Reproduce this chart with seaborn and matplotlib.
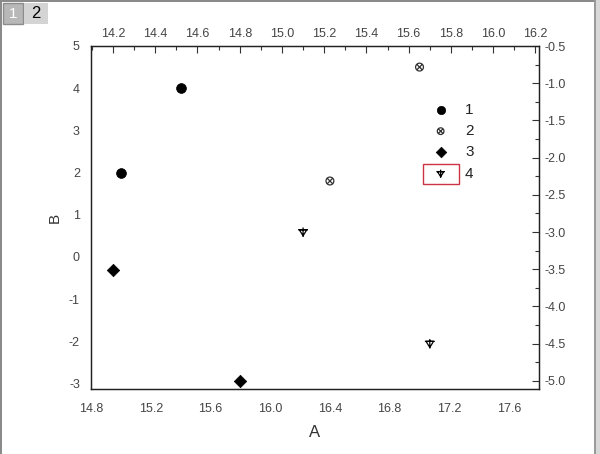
import matplotlib
matplotlib.use("Agg")
import matplotlib.pyplot as plt
import seaborn as sns
import numpy as np
import pandas as pd
from matplotlib.path import Path
from matplotlib.patches import Rectangle
from matplotlib.ticker import MultipleLocator, FixedLocator

sns.set_theme(style="white")
plt.rcParams['font.family'] = ['Liberation Sans', 'DejaVu Sans']

# ---- data (bottom/left axes) ----
s1_x = [15.0, 15.4]
s1_y = [2.0, 4.0]
s2_x = [16.4, 17.0]
s2_y = [1.8, 4.5]
s3_x = [14.95, 15.8]
s3_y = [-0.3, -2.95]
# ---- data (top/right axes) ----
s4_x = [15.1, 15.7]
s4_y = [-3.0, -4.5]

labels = ["1", "2", "3", "4"]
bottom_ticks = [14.8, 15.2, 15.6, 16.0, 16.4, 16.8, 17.2, 17.6]
left_ticks = [-3, -2, -1, 0, 1, 2, 3, 4, 5]
top_ticks = [14.2, 14.4, 14.6, 14.8, 15.0, 15.2, 15.4, 15.6, 15.8, 16.0, 16.2]
right_ticks = [-0.5, -1.0, -1.5, -2.0, -2.5, -3.0, -3.5, -4.0, -4.5, -5.0]

# custom markers
t = np.linspace(0, 2 * np.pi, 40)
circ = Path(np.column_stack([np.cos(t), np.sin(t)]))
xs = Path([(-0.7, -0.7), (0.7, 0.7), (-0.7, 0.7), (0.7, -0.7)],
          [Path.MOVETO, Path.LINETO, Path.MOVETO, Path.LINETO])
circ_x = Path.make_compound_path(circ, xs)
tri = Path([(-1, 0.6), (1, 0.6), (0, -1), (-1, 0.6)],
           [Path.MOVETO, Path.LINETO, Path.LINETO, Path.CLOSEPOLY])
plus = Path([(0, 1.2), (0, -1.3), (-1.3, 0.6), (1.3, 0.6)],
            [Path.MOVETO, Path.LINETO, Path.MOVETO, Path.LINETO])
tri_plus = Path.make_compound_path(tri, plus)

W, H = 600, 454
fig = plt.figure(figsize=(6.0, 4.54), dpi=100)
fig.patch.set_facecolor("white")

rect = [91 / W, 1 - 389 / H, (539 - 91) / W, (389 - 46) / H]
ax = fig.add_axes(rect)
ax.set_facecolor("white")
ax2 = fig.add_axes(rect, facecolor="none")

d1 = pd.DataFrame({"A": s1_x, "B": s1_y})
d2 = pd.DataFrame({"A": s2_x, "B": s2_y})
d3 = pd.DataFrame({"A": s3_x, "B": s3_y})
d4 = pd.DataFrame({"A": s4_x, "B": s4_y})

sns.scatterplot(data=d1, x="A", y="B", ax=ax, marker="o", s=50, color="black",
                edgecolor="black", linewidth=0.5, label=labels[0])
sns.scatterplot(data=d2, x="A", y="B", ax=ax, marker=circ_x, s=32, facecolor="none",
                edgecolor="#333333", linewidth=0.9, label=labels[1])
sns.scatterplot(data=d3, x="A", y="B", ax=ax, marker="D", s=40, color="black",
                edgecolor="black", linewidth=0.5, label=labels[2])
sns.scatterplot(data=d4, x="A", y="B", ax=ax2, marker=tri_plus, s=50, facecolor="none",
                edgecolor="black", linewidth=0.9, label=labels[3])

ax.set_xlim(14.8, 17.8)
ax.set_ylim(-3.13, 5.0)
ax2.set_xlim(14.096, 16.217)
ax2.set_ylim(-5.11, -0.5)

tick_col = "#333333"
lab_col = "#444444"
for a in [ax, ax2]:
    for sp in a.spines.values():
        sp.set_color("#222222")
        sp.set_linewidth(0.9)

ax.xaxis.set_major_locator(FixedLocator(bottom_ticks))
ax.xaxis.set_minor_locator(MultipleLocator(0.2))
ax.yaxis.set_major_locator(FixedLocator(left_ticks))
ax.yaxis.set_minor_locator(MultipleLocator(0.5))
ax.tick_params(axis="both", which="major", direction="out", length=5, width=0.8,
               color=tick_col, labelsize=9, labelcolor=lab_col, pad=3)
ax.tick_params(axis="both", which="minor", direction="out", length=3, width=0.8,
               color=tick_col)
ax.tick_params(axis="x", pad=5)
ax.set_xticklabels([f"{v:.1f}" for v in bottom_ticks])
ax.set_yticklabels([str(v) for v in left_ticks])

ax2.xaxis.set_major_locator(FixedLocator(top_ticks))
ax2.xaxis.set_minor_locator(MultipleLocator(0.1))
ax2.yaxis.set_major_locator(FixedLocator(right_ticks))
ax2.yaxis.set_minor_locator(MultipleLocator(0.25))
ax2.xaxis.tick_top()
ax2.yaxis.tick_right()
ax2.tick_params(axis="both", which="major", direction="in", length=5, width=0.8,
                color=tick_col, labelsize=9, labelcolor=lab_col, pad=4)
ax2.tick_params(axis="both", which="minor", direction="in", length=3, width=0.8,
                color=tick_col)
ax2.tick_params(axis="x", pad=4)
ax2.set_xticklabels([f"{v:.1f}" for v in top_ticks])
ax2.set_yticklabels([f"{v:.1f}" for v in right_ticks])
ax2.set_xlabel("")
ax2.set_ylabel("")

ax.set_xlabel("A", fontsize=12, color="#333333", labelpad=7)
ax.set_ylabel("B", fontsize=11, color="#333333", labelpad=5)

# legend
h1, l1 = ax.get_legend_handles_labels()
h2, l2 = ax2.get_legend_handles_labels()
for a in [ax, ax2]:
    if a.get_legend() is not None:
        a.get_legend().remove()
leg = ax2.legend(h1 + h2, l1 + l2, loc="upper left",
                 bbox_to_anchor=(433 / W, 1 - 103 / H), bbox_transform=fig.transFigure,
                 frameon=False, fontsize=11, labelspacing=0.47, handlelength=1.0,
                 handletextpad=1.1, borderpad=0, borderaxespad=0, markerscale=0.85)
for txt in leg.get_texts():
    txt.set_color("#222222")

# red highlight box around entry 4
fig.patches.append(Rectangle((423 / W, 1 - 184 / H), 36 / W, 20 / H,
                             transform=fig.transFigure, fill=False,
                             edgecolor="#cc3344", linewidth=1.0))

# window frame / tab decorations
fig.patches.append(Rectangle((0, 0), 2 / W, 1, transform=fig.transFigure,
                             facecolor="#8a8a8a", edgecolor="none"))
fig.patches.append(Rectangle((0, 1 - 2 / H), 596 / W, 2 / H, transform=fig.transFigure,
                             facecolor="#8a8a8a", edgecolor="none"))
fig.patches.append(Rectangle((596 / W, 0), 4 / W, 1, transform=fig.transFigure,
                             facecolor="#d8d8d8", edgecolor="none"))
fig.patches.append(Rectangle((594 / W, 0), 1.5 / W, 1, transform=fig.transFigure,
                             facecolor="#9a9a9a", edgecolor="none"))
fig.patches.append(Rectangle((3 / W, 1 - 24 / H), 20 / W, 21 / H, transform=fig.transFigure,
                             facecolor="#b8b8b8", edgecolor="#8c8c8c", linewidth=1.0))
fig.patches.append(Rectangle((24 / W, 1 - 24 / H), 24 / W, 21 / H, transform=fig.transFigure,
                             facecolor="#d4d4d4", edgecolor="none"))
fig.text(13 / W, 1 - 14 / H, "1", ha="center", va="center", fontsize=11,
         color="white")
fig.text(36 / W, 1 - 14 / H, "2", ha="center", va="center", fontsize=12,
         color="black")

fig.savefig("out.png", dpi=100, facecolor="white")
